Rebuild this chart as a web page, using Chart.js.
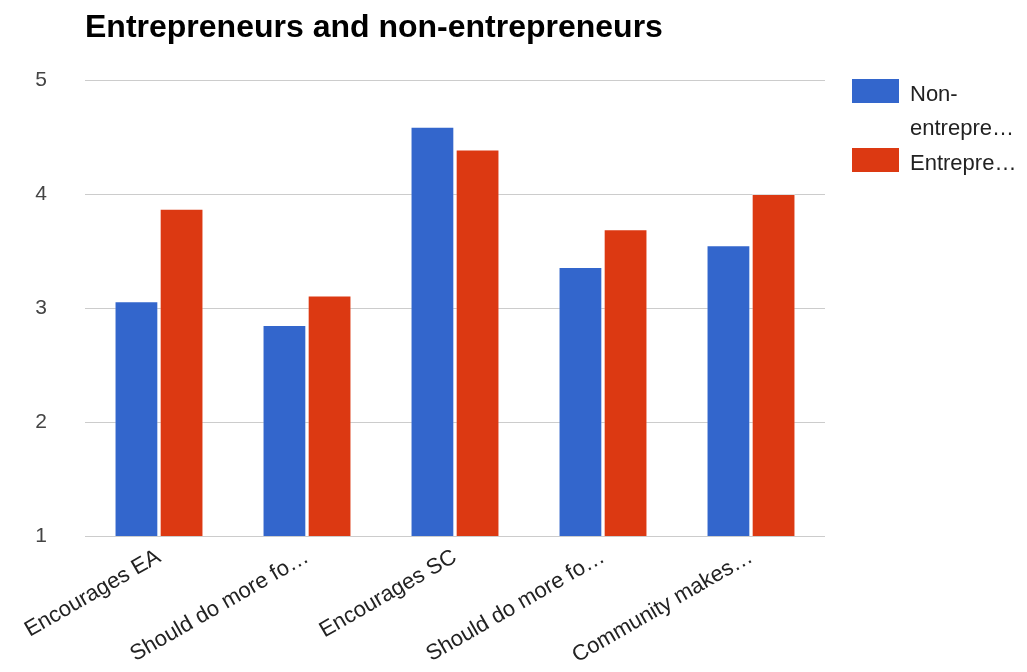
<!DOCTYPE html>
<html>
<head>
<meta charset="utf-8">
<script src="https://cdn.jsdelivr.net/npm/chart.js@4/dist/chart.umd.min.js"></script>
<style>
  html, body { margin: 0; padding: 0; background: #fff; }
  #wrap { width: 1027px; height: 672px; position: relative; }
</style>
</head>
<body>
<div id="wrap"><canvas id="c" width="1027" height="672"></canvas></div>
<script>
const categories = ["Encourages EA", "Should do more fo\u2026", "Encourages SC", "Should do more fo\u2026", "Community makes\u2026"];
const nonEntrepreneurs = [3.06, 2.85, 4.59, 3.36, 3.55];
const entrepreneurs = [3.87, 3.11, 4.39, 3.69, 4.00];
const seriesNames = [["Non-", "entrepre\u2026"], ["Entrepre\u2026"]];
const yTicks = [1, 2, 3, 4, 5];
const titleText = "Entrepreneurs and non-entrepreneurs";

const FONT = "'Liberation Sans', Arial, sans-serif";

const titlePlugin = {
  id: 'customTitle',
  afterDraw(chart) {
    const ctx = chart.ctx;
    ctx.save();
    ctx.font = "bold 32px " + FONT;
    ctx.fillStyle = "#000";
    ctx.textBaseline = "alphabetic";
    ctx.textAlign = "left";
    ctx.fillText(titleText, 85, 37);
    ctx.restore();
  }
};

const legendPlugin = {
  id: 'customLegend',
  afterDraw(chart) {
    const ctx = chart.ctx;
    ctx.save();
    ctx.font = "22px " + FONT;
    ctx.textAlign = "left";
    ctx.textBaseline = "alphabetic";
    let y = 79;
    chart.data.datasets.forEach((ds, i) => {
      ctx.fillStyle = ds.backgroundColor;
      ctx.fillRect(852, y, 47, 24);
      ctx.fillStyle = "#222";
      const lines = seriesNames[i];
      lines.forEach((ln, j) => {
        ctx.fillText(ln, 910, y + 22 + j * 34);
      });
      y += 69;
    });
    ctx.restore();
  }
};

new Chart(document.getElementById('c'), {
  type: 'bar',
  data: {
    labels: categories,
    datasets: [
      { label: "Non-entrepreneurs", data: nonEntrepreneurs, backgroundColor: "#3366cc", borderColor: "rgba(255,255,255,0.35)", borderWidth: 1, categoryPercentage: 0.61, barPercentage: 0.97 },
      { label: "Entrepreneurs", data: entrepreneurs, backgroundColor: "#dc3912", borderColor: "rgba(255,255,255,0.35)", borderWidth: 1, categoryPercentage: 0.61, barPercentage: 0.97 }
    ]
  },
  options: {
    responsive: false,
    animation: false,
    layout: { padding: { top: 80, right: 202, left: 0, bottom: 0 } },
    plugins: { legend: { display: false }, title: { display: false }, tooltip: { enabled: false } },
    scales: {
      x: {
        grid: { display: false, drawTicks: false },
        border: { display: false },
        ticks: { color: "#222", font: { family: FONT, size: 22 }, minRotation: 30, maxRotation: 30, autoSkip: false, padding: 8 },
        afterFit(scale) { scale.height = 136; }
      },
      y: {
        min: 1, max: 5,
        afterBuildTicks(scale) { scale.ticks = yTicks.map(v => ({ value: v })); },
        grid: { color: "#cccccc", lineWidth: 1, drawTicks: false },
        border: { display: false },
        ticks: { color: "#444", font: { family: FONT, size: 21 }, padding: 38 },
        afterFit(scale) { scale.width = 85; }
      }
    }
  },
  plugins: [titlePlugin, legendPlugin]
});
</script>
</body>
</html>
